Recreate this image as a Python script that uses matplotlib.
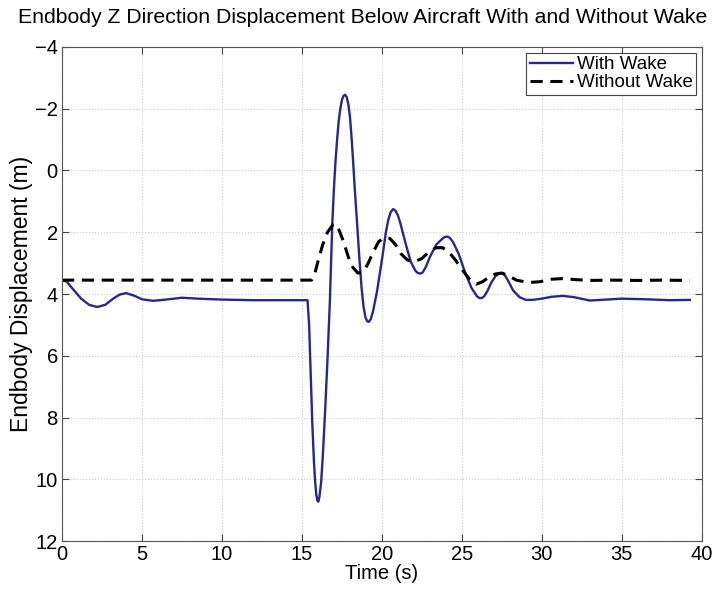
import matplotlib
matplotlib.use('Agg')
import matplotlib.pyplot as plt

# endbody z displacement, with wake (m), read at time points (s)
t_wake = [0.0, 0.3, 0.7, 1.2, 1.7, 2.2, 2.7, 3.2, 3.6, 4.0, 4.5, 5.0, 5.7, 6.5,
          7.5, 8.5, 10.0, 12.0, 14.0, 15.35, 15.45, 15.55, 15.65, 15.75, 15.83,
          15.9, 15.97, 16.03, 16.1, 16.2, 16.3, 16.45, 16.6, 16.75, 16.9, 17.0,
          17.1, 17.2, 17.3, 17.4, 17.5, 17.6, 17.7, 17.8, 17.9, 18.0, 18.1,
          18.2, 18.33, 18.46, 18.6, 18.73, 18.85, 18.97, 19.08, 19.18, 19.3,
          19.45, 19.7, 20.0, 20.25, 20.4, 20.55, 20.7, 20.85, 21.0, 21.15,
          21.45, 21.8, 22.1, 22.25, 22.4, 22.55, 22.75, 23.0, 23.4, 23.8, 23.95,
          24.1, 24.25, 24.45, 24.8, 25.2, 25.6, 25.95, 26.1, 26.25, 26.4, 26.6,
          26.85, 27.1, 27.3, 27.5, 27.7, 27.9, 28.2, 28.6, 29.0, 29.4, 30.0,
          30.6, 31.3, 32.0, 33.0, 34.0, 35.0, 36.5, 38.0, 39.25]
z_wake = [3.55, 3.6, 3.85, 4.15, 4.35, 4.42, 4.35, 4.15, 4.02, 3.97, 4.05, 4.17,
          4.22, 4.18, 4.12, 4.15, 4.18, 4.2, 4.2, 4.2, 5.0, 6.6, 8.2, 9.4,
          10.1, 10.5, 10.7, 10.72, 10.55, 10.1, 9.3, 7.8, 6.1, 4.2, 1.7, 0.6,
          -0.3, -1.0, -1.6, -2.0, -2.28, -2.42, -2.45, -2.38, -2.15, -1.75,
          -1.1, -0.3, 0.8, 1.8, 2.9, 3.8, 4.4, 4.75, 4.88, 4.9, 4.82, 4.55,
          3.9, 2.9, 2.0, 1.6, 1.35, 1.25, 1.3, 1.45, 1.7, 2.3, 2.95, 3.25,
          3.32, 3.34, 3.3, 3.12, 2.8, 2.4, 2.2, 2.15, 2.14, 2.18, 2.32, 2.7,
          3.3, 3.8, 4.08, 4.13, 4.13, 4.07, 3.9, 3.62, 3.42, 3.35, 3.32, 3.4,
          3.58, 3.88, 4.1, 4.19, 4.19, 4.15, 4.09, 4.06, 4.1, 4.21, 4.18, 4.15,
          4.17, 4.2, 4.19]

# same, without wake
t_nowake = [0.0, 5.0, 10.0, 15.0, 15.6, 15.8, 16.0, 16.3, 16.6, 16.85, 16.95,
            17.06, 17.18, 17.3, 17.6, 17.9, 18.2, 18.5, 18.8, 19.1, 19.45, 19.8,
            20.15, 20.5, 20.85, 21.2, 21.6, 22.06, 22.5, 22.9, 23.4, 23.8, 24.2,
            24.6, 25.0, 25.45, 25.9, 26.3, 26.7, 27.1, 27.5, 27.9, 28.4, 28.9,
            29.4, 29.9, 30.6, 31.3, 32.0, 33.0, 34.5, 36.0, 37.5, 39.25]
z_nowake = [3.55, 3.55, 3.55, 3.55, 3.55, 3.35, 2.95, 2.4, 2.0, 1.82, 1.75,
            1.73, 1.78, 1.9, 2.3, 2.8, 3.15, 3.32, 3.3, 3.05, 2.65, 2.3, 2.18,
            2.2, 2.4, 2.7, 2.9, 2.95, 2.85, 2.65, 2.5, 2.5, 2.65, 2.9, 3.2, 3.5,
            3.68, 3.6, 3.45, 3.35, 3.32, 3.4, 3.55, 3.6, 3.62, 3.6, 3.52, 3.5,
            3.53, 3.56, 3.55, 3.56, 3.55, 3.56]

x_ticks = [0, 5, 10, 15, 20, 25, 30, 35, 40]
y_ticks = [-4, -2, 0, 2, 4, 6, 8, 10, 12]


def main():
    plt.rcParams['font.family'] = ['Liberation Sans', 'DejaVu Sans']

    fig = plt.figure(figsize=(7.25, 5.94), dpi=100)
    ax = fig.add_axes([0.0855, 0.089, 0.8825, 0.832])

    ax.plot(t_wake, z_wake, color='#27288c', lw=1.7, label='With Wake')
    ax.plot(t_nowake, z_nowake, color='black', lw=2.2, ls=(0, (4, 2.5)),
            label='Without Wake')

    ax.set_xlim(0, 40)
    ax.set_ylim(12, -4)
    ax.set_xticks(x_ticks)
    ax.set_yticks(y_ticks)
    ax.tick_params(direction='in', top=True, right=True, length=5,
                   labelsize=14.5, color='#444444', pad=3)
    ax.grid(True, ls=':', color='#cccccc', lw=0.8)
    for s in ax.spines.values():
        s.set_color('#555555')
        s.set_linewidth(0.8)

    # title centred on the whole figure, above the -4 tick label
    fig.text(0.5, 0.971,
             'Endbody Z Direction Displacement Below Aircraft With and Without Wake',
             fontsize=15.3, ha='center', va='center')
    ax.set_xlabel('Time (s)', fontsize=14.5, labelpad=0)
    ax.set_ylabel('Endbody Displacement (m)', fontsize=16.5, labelpad=1)

    leg = ax.legend(loc='upper right', fontsize=13.5, fancybox=False,
                    edgecolor='#444444', framealpha=1, borderaxespad=0.3,
                    handlelength=2.3, handletextpad=0.2, borderpad=0.2,
                    labelspacing=0.05)
    leg.get_frame().set_linewidth(0.8)

    fig.savefig('out.png', dpi=100)


if __name__ == '__main__':
    main()
